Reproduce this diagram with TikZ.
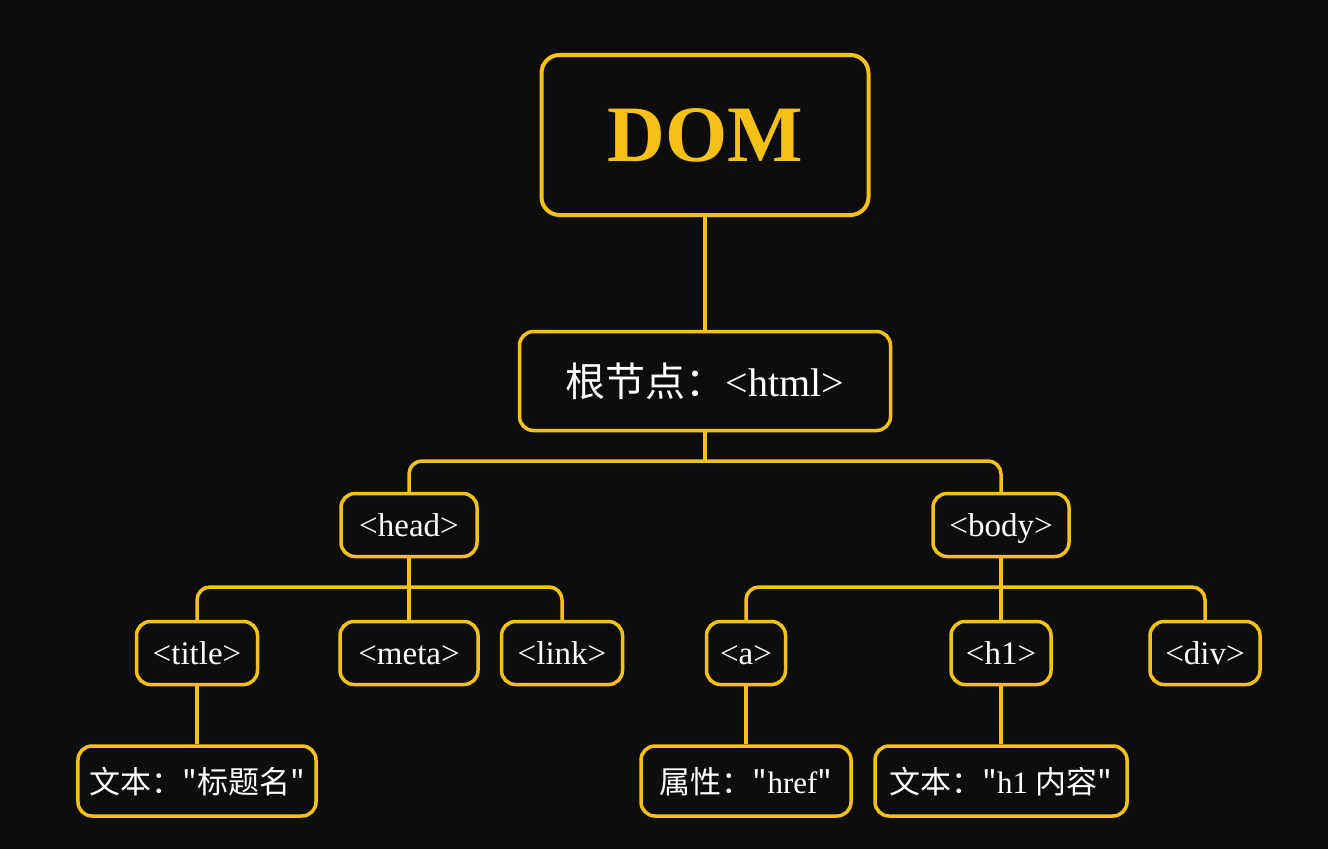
\documentclass[tikz,border=0pt]{standalone}
\usepackage{fontspec}
\setmainfont{Liberation Serif}
\newfontfamily\cjk{Noto Sans CJK SC}
\usetikzlibrary{positioning}

\begin{document}
\begin{tikzpicture}[x=1bp, y=-1bp,
    box/.style={draw=domyellow, line width=3.5bp, rounded corners=14bp, fill=bgcolor, text=white, align=center, inner sep=0pt, text depth=0bp},
    tag/.style={box, minimum height=63bp, text height=22bp, font=\fontsize{33bp}{38bp}\selectfont},
    leaf/.style={box, minimum height=70bp, text height=24bp, font=\fontsize{31bp}{36bp}\selectfont},
    wire/.style={draw=domyellow, line width=3.5bp, rounded corners=13bp}]

    % Define colors
    \definecolor{bgcolor}{RGB}{13, 13, 13}
    \definecolor{domyellow}{RGB}{245, 193, 22}

    % Background
    \fill[bgcolor] (0, 0) rectangle (1328, 849);

    % Title
    \node[box, line width=4bp, rounded corners=18bp, minimum width=327bp, minimum height=160bp, text height=53bp, text=domyellow, font=\fontsize{80bp}{90bp}\selectfont\bfseries] (dom) at (705, 135) {DOM};

    % Root node
    \node[box, minimum width=371bp, minimum height=99bp, text height=30bp, font=\fontsize{40bp}{48bp}\selectfont] (html) at (705, 381) {{\cjk 根节点：}<html>};

    % Head and body
    \node[tag, minimum width=136bp] (head) at (409, 525) {<head>};
    \node[tag, minimum width=136bp] (body) at (1001, 525) {<body>};

    % Children of head
    \node[tag, minimum width=121bp] (title) at (197, 653) {<title>};
    \node[tag, minimum width=138bp] (meta) at (409, 653) {<meta>};
    \node[tag, minimum width=121bp] (link) at (562, 653) {<link>};

    % Children of body
    \node[tag, minimum width=79bp] (a) at (746, 653) {<a>};
    \node[tag, minimum width=100bp] (h1) at (1001, 653) {<h1>};
    \node[tag, minimum width=110bp] (div) at (1205, 653) {<div>};

    % Text and attribute nodes
    \node[leaf, minimum width=238bp] (titletext) at (197, 781) {{\cjk 文本："标题名"}};
    \node[leaf, minimum width=210bp] (href) at (746, 781) {{\cjk 属性："}href{\cjk "}};
    \node[leaf, minimum width=252bp] (h1text) at (1001, 781) {{\cjk 文本："}h1 {\cjk 内容"}};

    % Connectors
    \coordinate (rootbar) at (705, 461);
    \coordinate (headbar) at (409, 587);
    \coordinate (bodybar) at (1001, 587);

    \draw[wire] (dom) -- (html);
    \draw[wire] (html) -- (rootbar);
    \draw[wire] (head) |- (rootbar) -| (body);
    \draw[wire] (title) |- (headbar) -| (link);
    \draw[wire] (a) |- (bodybar) -| (div);

    \foreach \parent/\child in {head/meta, body/h1, title/titletext, a/href, h1/h1text} {
        \draw[wire] (\parent) -- (\child);
    }

\end{tikzpicture}
\end{document}
